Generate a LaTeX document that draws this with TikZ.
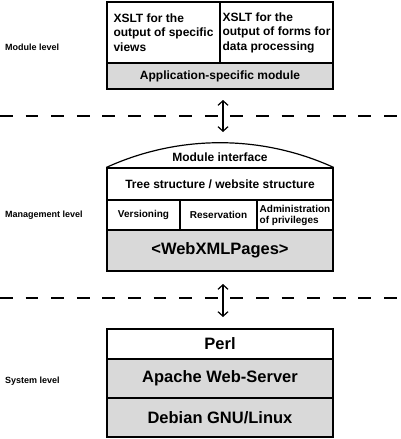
\documentclass[tikz,border=0pt]{standalone}
\usepackage{fontspec}
\setmainfont{Liberation Sans}
\usepackage{xcolor}
\usetikzlibrary{arrows.meta,positioning}
\definecolor{boxgray}{HTML}{D9D9D9}

\begin{document}
\begin{tikzpicture}[x=1pt,y=-1pt,
  cell/.style={draw,line width=1.2pt,inner sep=0pt,font=\bfseries,align=center},
  graycell/.style={cell,fill=boxgray},
  lvl/.style={anchor=west,inner sep=0pt,font=\fontsize{9}{11}\selectfont\bfseries},
  sepline/.style={line width=1.5pt,dash pattern=on 12.8pt off 12.8pt},
  link/.style={line width=1.2pt,{Straight Barb[length=4.5pt,width=10pt]}-{Straight Barb[length=4.5pt,width=10pt]}}]
\useasboundingbox (0,0) rectangle (400,439);
% module level
\node[cell,minimum width=113pt,minimum height=61pt,align=left,
  font=\fontsize{12}{14.5}\selectfont\bfseries] (xsltviews) at (163.5,32.5)
  {XSLT for the\\output of specific\\views};
\node[cell,minimum width=113pt,minimum height=61pt,align=left,
  font=\fontsize{12}{14.5}\selectfont\bfseries] (xsltforms) at (276.5,32.5)
  {XSLT for the\\output of forms for\\data processing};
\node[graycell,minimum width=226pt,minimum height=26pt,
  font=\fontsize{12}{14}\selectfont\bfseries] (appmod) at (220,76) {Application-specific module};
\node[lvl] (modlvl) at (5,47) {Module level};
% management level
\node[cell,minimum width=226pt,minimum height=32pt,
  font=\fontsize{12}{14}\selectfont\bfseries] (tree) at (220,184) {Tree structure / website structure};
\draw[line width=1.2pt] (tree.north west) .. controls (178.8,134.5) and (261.2,134.5) .. (tree.north east);
\node[font=\fontsize{12}{14}\selectfont\bfseries] (modif) at (220,157) {Module interface};
\node[cell,minimum width=73pt,minimum height=30pt,
  font=\fontsize{10}{12}\selectfont\bfseries] (vers) at (143.5,215) {Versioning};
\node[cell,minimum width=77pt,minimum height=30pt,
  font=\fontsize{10}{12}\selectfont\bfseries] (reserv) at (218.5,215) {Reservation};
\node[cell,minimum width=76pt,minimum height=30pt,align=left,
  font=\fontsize{10}{11}\selectfont\bfseries] (admin) at (295,215) {Administration\\of privileges};
\node[graycell,minimum width=226pt,minimum height=41pt,
  font=\fontsize{16.5}{19}\selectfont\bfseries] (webxml) at (220,250.5) {<WebXMLPages>};
\node[lvl] (mgmtlvl) at (5,215) {Management level};
% system level
\node[cell,minimum width=226pt,minimum height=30pt,
  font=\fontsize{16.5}{19}\selectfont\bfseries] (perl) at (220,344) {Perl};
\node[graycell,minimum width=226pt,minimum height=39pt,
  font=\fontsize{16.5}{19}\selectfont\bfseries] (apache) at (220,378.5) {Apache Web-Server};
\node[graycell,minimum width=226pt,minimum height=39pt,
  font=\fontsize{16.5}{19}\selectfont\bfseries] (debian) at (220,417.5) {Debian GNU/Linux};
\node[lvl] (syslvl) at (5,381) {System level};
% separators and arrows
\coordinate (sepA) at (0,116);
\coordinate (sepB) at (400,116);
\coordinate (sepC) at (0,298);
\coordinate (sepD) at (400,298);
\draw[sepline] (sepA) -- (sepB);
\draw[sepline] (sepC) -- (sepD);
\coordinate (upA) at (223,100);
\coordinate (upB) at (223,132);
\coordinate (dnA) at (223,284);
\coordinate (dnB) at (223,317);
\draw[link] (upA) -- (upB);
\draw[link] (dnA) -- (dnB);
\end{tikzpicture}
\end{document}
